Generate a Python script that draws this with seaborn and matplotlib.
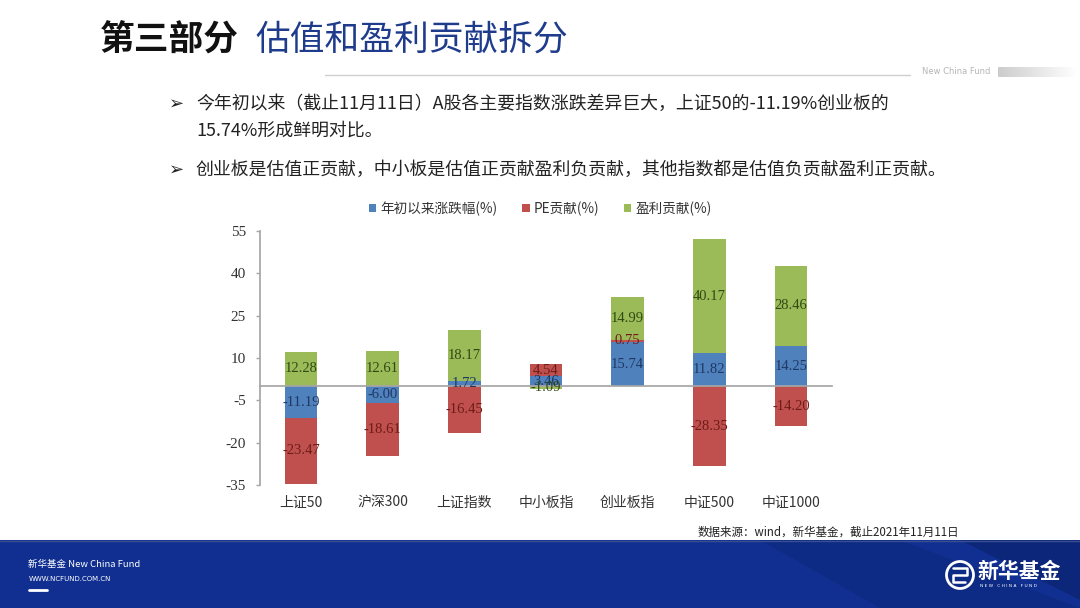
import numpy as np
import matplotlib
matplotlib.use('Agg')
import matplotlib.pyplot as plt
import matplotlib.transforms as mtransforms
from matplotlib.patches import Patch, Rectangle, Circle, Polygon
import seaborn as sns

# ---------------- data ----------------
categories = ['上证50', '沪深300', '上证指数', '中小板指', '创业板指', '中证500', '中证1000']
series_names = ['年初以来涨跌幅(%)', 'PE贡献(%)', '盈利贡献(%)']
ytd_change = [-11.19, -6.00, 1.72, 3.46, 15.74, 11.82, 14.25]
pe_contrib = [-23.47, -18.61, -16.45, 4.54, 0.75, -28.35, -14.20]
earn_contrib = [12.28, 12.61, 18.17, -1.09, 14.99, 40.17, 28.46]
y_ticks = [-35, -20, -5, 10, 25, 40, 55]

title_bold = '第三部分'
title_rest = '估值和盈利贡献拆分'
bullet_lines = ['今年初以来（截止11月11日）A股各主要指数涨跌差异巨大，上证50的-11.19%创业板的',
                '15.74%形成鲜明对比。',
                '创业板是估值正贡献，中小板是估值正贡献盈利负贡献，其他指数都是估值负贡献盈利正贡献。']
source_text = '数据来源：wind，新华基金，截止2021年11月11日'

colors = ['#4F81BD', '#C0504D', '#9BBB59']
label_colors = ['#1F3864', '#6E1C19', '#2F4A12']

sns.set_theme(style='white')
CJK = ['Noto Sans CJK SC', 'DejaVu Sans']
plt.rcParams['font.family'] = CJK
plt.rcParams['axes.unicode_minus'] = False

fig = plt.figure(figsize=(10.8, 6.08), dpi=100)
fig.patch.set_facecolor('white')

# ---------------- slide decoration (pixel coordinates) ----------------
bg = fig.add_axes([0, 0, 1, 1])
bg.set_xlim(0, 1080)
bg.set_ylim(608, 0)
bg.axis('off')

bg.text(100, 40, title_bold, fontsize=25, fontweight='heavy', color='#111111', va='center', ha='left')
bg.text(255, 40, title_rest, fontsize=25, color='#1F3C8C', va='center', ha='left')
bg.plot([325, 910], [75, 75], color='#CFCFCF', lw=1)
bg.text(922, 72, 'New China Fund', fontsize=6, color='#B5B5B5', va='center', ha='left', family='DejaVu Sans')
grad = np.linspace(0.80, 1.0, 100).reshape(1, -1)
bg.imshow(grad, cmap='gray', vmin=0, vmax=1, extent=[998, 1078, 77, 67], aspect='auto')

# bullets
bullet_y = [104, 131, 170]
bg.text(169, bullet_y[0], '➢', fontsize=13, color='#222222', va='center', ha='left', family='DejaVu Sans')
bg.text(169, bullet_y[2], '➢', fontsize=13, color='#222222', va='center', ha='left', family='DejaVu Sans')
for line, yy in zip(bullet_lines, bullet_y):
    bg.text(196, yy, line, fontsize=12.9, color='#222222', va='center', ha='left')

bg.text(698, 532, source_text, fontsize=8.3, color='#222222', va='center', ha='left')

# footer
bg.add_patch(Rectangle((0, 540), 1080, 68, facecolor='#102F90', edgecolor='none'))
bg.add_patch(Polygon([[760, 540], [900, 540], [1080, 608], [880, 608]], closed=True,
                     facecolor='#0A2370', alpha=0.35, edgecolor='none'))
bg.add_patch(Polygon([[960, 540], [1080, 540], [1080, 600]], closed=True,
                     facecolor='#07195A', alpha=0.4, edgecolor='none'))
bg.plot([0, 1080], [540.5, 540.5], color='#3A4E90', lw=1)
bg.text(28, 564, '新华基金 New China Fund', fontsize=6.8, color='white', style='italic', va='center', ha='left')
bg.text(29, 579, 'WWW.NCFUND.COM.CN', fontsize=5.0, color='white', va='center', ha='left', family='DejaVu Sans')
bg.plot([29, 47], [590, 590], color='white', lw=2)

bg.add_patch(Circle((960, 575), 13.5, facecolor='none', edgecolor='white', lw=2))
bg.plot([953, 967, 967, 953, 953, 965], [568, 568, 575, 575, 582, 582], color='white', lw=1.8)
bg.text(978, 572, '新华基金', fontsize=15, fontweight='bold', color='white', va='center', ha='left')
bg.text(980, 586, 'N E W   C H I N A   F U N D', fontsize=3.2, color='white', va='center', ha='left',
        family='DejaVu Sans')

# ---------------- chart ----------------
ax = fig.add_axes([260 / 1080, 1 - 485 / 608, 572 / 1080, 254 / 608])
ax.set_facecolor('none')

vals = np.array([ytd_change, pe_contrib, earn_contrib])
pos_cum = np.cumsum(np.where(vals > 0, vals, 0), axis=0)
neg_cum = np.cumsum(np.where(vals < 0, vals, 0), axis=0)
ends = np.where(vals >= 0, pos_cum, neg_cum)
starts = ends - vals

# outermost segments first, inner segments drawn over them
for i in reversed(range(3)):
    sns.barplot(x=categories, y=ends[i], order=categories, color=colors[i], saturation=1,
                width=0.4, linewidth=0, errorbar=None, ax=ax, zorder=2)

for i in range(3):
    for j in range(len(categories)):
        ax.text(j, (starts[i, j] + ends[i, j]) / 2, f'{vals[i, j]:.2f}', ha='center', va='center',
                color=label_colors[i], fontsize=10.5, family='Liberation Serif', zorder=5)

ax.set_xlim(-0.5, len(categories) - 0.5)
ax.set_ylim(-35, 55)
ax.set_yticks(y_ticks)
ax.set_yticklabels([str(t) for t in y_ticks], family='Liberation Serif', fontsize=11, color='#333333')
ax.set_xticks(range(len(categories)))
ax.set_xticklabels([''] * len(categories))
ax.set_xticks(np.arange(0.5, len(categories), 1), minor=True)
ax.tick_params(axis='x', which='major', length=0)
ax.tick_params(axis='x', which='minor', length=4, width=1, color='#A6A6A6', direction='out')
ax.tick_params(axis='y', length=3, width=1, color='#A6A6A6', direction='out', pad=7, left=True)
ax.set_xlabel('')
ax.set_ylabel('')
for s in ['top', 'right']:
    ax.spines[s].set_visible(False)
ax.spines['left'].set_color('#A6A6A6')
ax.spines['bottom'].set_color('#A6A6A6')
ax.spines['bottom'].set_position(('data', 0))
ax.grid(False)

trans = mtransforms.blended_transform_factory(ax.transData, ax.transAxes)
for j, c in enumerate(categories):
    ax.text(j, -0.071, c, transform=trans, ha='center', va='center', fontsize=10, color='#333333')

handles = [Patch(facecolor=c, edgecolor='none') for c in colors]
ax.legend(handles, series_names, loc='center', bbox_to_anchor=(0.49, 1.087), ncol=3, frameon=False,
          handlelength=0.55, handleheight=0.55, columnspacing=1.8, handletextpad=0.3, fontsize=9.8,
          labelcolor='#333333')

fig.savefig('out.png', dpi=100)
